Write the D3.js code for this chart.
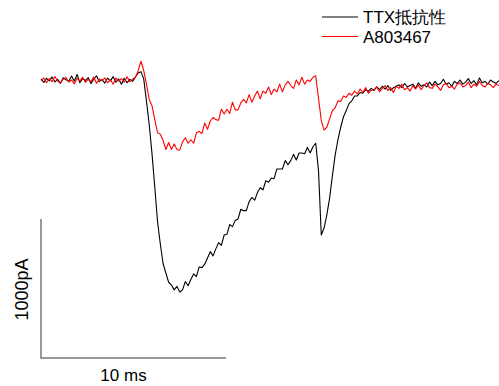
<!DOCTYPE html>
<html>
<head>
<meta charset="utf-8">
<script src="https://cdn.jsdelivr.net/npm/d3@7"></script>
<style>
  body { margin: 0; background: #fff; }
  svg text { font-family: "Liberation Sans", Arial, sans-serif; }
</style>
</head>
<body>
<div id="chart"></div>
<script>
// sampling interval of the traces (ms)
const dt = 0.15;

const seriesNames = ["TTX抵抗性", "A803467"];
const seriesColors = ["#000000", "#ff0000"];

// current in pA, one sample every dt
const ttxResistant = [
  8, -18, 12, -6, 22, -14, 4, -24, 16, 2, -10, 28, -8, 40, -20, 10, -4, 18, -26, 6,
  30, -12, 2, -22, 14, -6, 24, -16, 8, -30, 12, -20, 4, -10,
  20, 50, 60, 10, -150, -320, -530, -770, -1020, -1180, -1320, -1390, -1455, -1475, -1510, -1485, -1525,
  -1510, -1450, -1480, -1435, -1395, -1415, -1345, -1350, -1325, -1280, -1235, -1265, -1215, -1170,
  -1190, -1115, -1110, -1040, -1055, -1010, -1000, -930, -940, -940, -875, -845, -865, -810, -775,
  -790, -725, -735, -705, -710, -640, -640, -640, -580, -610, -580, -535, -575, -525, -525, -530,
  -485, -525, -480, -455,
  -650, -1115, -1065, -970, -850, -690, -540, -430, -340, -265, -220, -170, -150, -115, -115, -90,
  -95, -70, -80, -60, -75,
  -50, -70, -45, -65, -40, -75, -55, -45,
  -35, -55, -25, -50, -40, -30, -60, -20, -45, -35, -50, -15,
  -40, -10, -35, -25, 5, -30, -20, -45, -10, -25,
  0, -30, -15, 10, -25, -5, -35, 15, -20, -10, -30, 0, -15, -25, -5
];

const a803467 = [
  -5, 15, -20, 10, -12, 25, -8, -22, 6, 18, -15, 0, -28, 12, -6, 20, -18, 4, -10, 22,
  -25, 8, -4, 16, -20, 2, -30, 14, -8, 10, -16, 24, -12, 6,
  20, 65, 135, 70, -30, -140, -185, -285, -380, -390, -435, -500, -450, -500, -460, -500, -505,
  -445, -415, -455, -430, -455, -380, -370, -385, -310, -355, -295, -270, -285, -290, -210, -245,
  -210, -240, -160, -215, -215, -165, -140, -165, -105, -160, -115, -80, -135, -80, -95, -50,
  -105, -65, -85, -30, -85, -35, -10, -40, -60, 0, -35, 20, -30, 0, -10, 20, 30,
  -130, -290, -360, -340, -280, -220, -200, -150, -155, -115, -125, -95, -110, -80,
  -100, -65, -90, -55, -95, -75, -70,
  -50, -85, -60, -40, -75, -55, -90, -45, -60, -30, -70, -55, -80, -40, -65,
  -35, -70, -40, -20, -55, -60, -30, -50, -75, -35, -25, -55, -45, -65, -30,
  -20, -50, -40, -15, -55, -30, -45, -10, -40, -50, -25, -35, -55, -30, -40
];

// scale bar: 10 ms by 1000 pA
const barTime = 10;
const barCurrent = 1000;

const width = 499, height = 386;

const svg = d3.select("#chart").append("svg")
  .attr("width", width)
  .attr("height", height);

// 10 ms spans 185 px, 1000 pA spans 139 px
const xScale = d3.scaleLinear().domain([0, 10]).range([41, 226]);
const yScale = d3.scaleLinear().domain([0, -1000]).range([80, 219]);

const line = d3.line()
  .x((d, i) => xScale(i * dt))
  .y(d => yScale(d));

[ttxResistant, a803467].forEach((trace, k) => {
  svg.append("path")
    .datum(trace)
    .attr("fill", "none")
    .attr("stroke", seriesColors[k])
    .attr("stroke-width", 1.1)
    .attr("stroke-linejoin", "round")
    .attr("d", line);
});

// scale bar, drawn below the traces
const barTop = -barCurrent;
const barBottom = -2 * barCurrent;
svg.append("path")
  .attr("fill", "none")
  .attr("stroke", "#777")
  .attr("stroke-width", 1.5)
  .attr("d", `M${xScale(0)},${yScale(barTop)}V${yScale(barBottom)}H${xScale(barTime)}`);

svg.append("text")
  .attr("transform", `translate(28,${(yScale(barTop) + yScale(barBottom)) / 2 + 1}) rotate(-90)`)
  .attr("text-anchor", "middle")
  .attr("font-size", 18)
  .text(barCurrent + "pA");

svg.append("text")
  .attr("x", xScale(barTime / 2) - 10)
  .attr("y", 381)
  .attr("text-anchor", "middle")
  .attr("font-size", 17)
  .text(barTime + " ms");

// legend
const legend = svg.append("g").attr("transform", "translate(322,17)");
seriesNames.forEach((name, k) => {
  legend.append("line")
    .attr("x1", 0).attr("x2", 36)
    .attr("y1", k * 19.5).attr("y2", k * 19.5)
    .attr("stroke", seriesColors[k])
    .attr("stroke-width", 1);
  legend.append("text")
    .attr("x", 41)
    .attr("y", k * 19.5 + 6)
    .attr("font-size", 17)
    .text(name);
});
</script>
</body>
</html>
